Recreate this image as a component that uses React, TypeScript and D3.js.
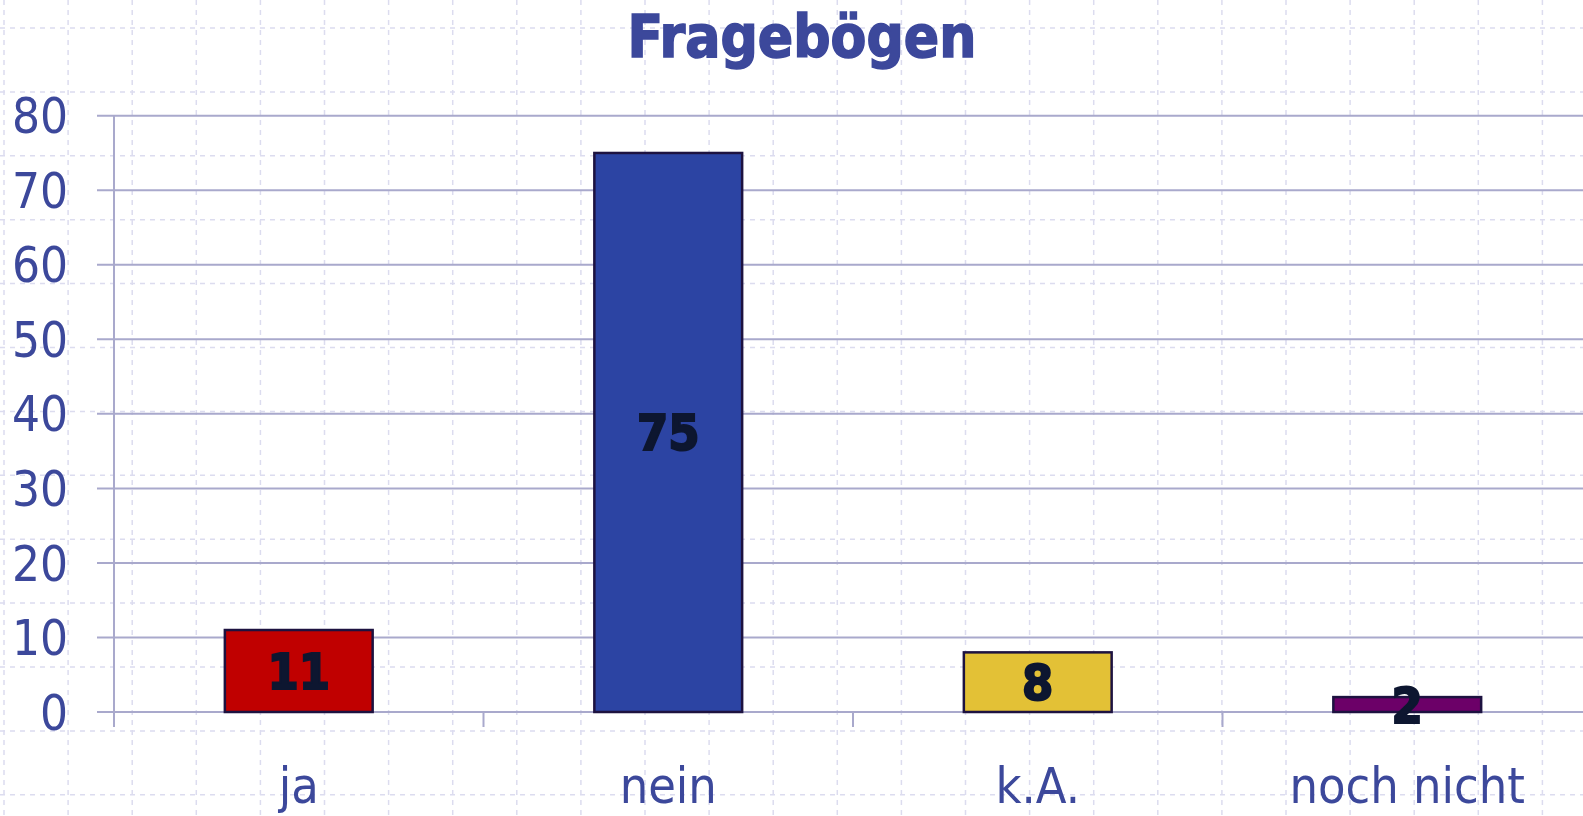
import React from "react";
import * as d3 from "d3";

const categories = ["ja", "nein", "k.A.", "noch nicht"];
const values = [11, 75, 8, 2];
const barColors = ["#c00000", "#2c44a3", "#e3c136", "#6c0068"];
const yTicks = [0, 10, 20, 30, 40, 50, 60, 70, 80];
const title = "Fragebögen";

const width = 1583;
const height = 816;
const textColor = "#3c489b";
const font = "'DejaVu Sans Condensed', 'DejaVu Sans', sans-serif";

const App = () => {
  const x = d3.scaleBand<string>().domain(categories).range([114, 1592]).padding(0);
  const y = d3.scaleLinear().domain([0, 80]).range([712, 115.7]);
  const barW = x.bandwidth() * 0.4;

  // background paper grid
  const bgX = d3.range(4, width, 64.1);
  const bgY = d3.range(28, height, 63.9);

  return (
    <div style={{ position: "fixed", left: 0, top: 0 }}>
      <svg width={width} height={height} style={{ display: "block", background: "#fff" }}>
        <g stroke="#dcdcef" strokeWidth={1.5} strokeDasharray="5,5">
          {bgX.map((v, i) => (
            <line key={"bx" + i} x1={v} x2={v} y1={0} y2={height} />
          ))}
          {bgY.map((v, i) => (
            <line key={"by" + i} x1={0} x2={width} y1={v} y2={v} />
          ))}
        </g>

        <text
          x={802}
          y={57}
          textAnchor="middle"
          fontFamily={font}
          fontWeight="bold"
          fontSize={58}
          fill={textColor}
          stroke={textColor}
          strokeWidth={1.5}
        >
          {title}
        </text>

        {/* gridlines + y ticks */}
        <g>
          {yTicks.map((t) => (
            <g key={t}>
              <line x1={97} x2={width} y1={y(t)} y2={y(t)} stroke="#a9a9cc" strokeWidth={2} />
              <text
                x={68}
                y={y(t)}
                dy="0.36em"
                textAnchor="end"
                fontFamily={font}
                fontSize={49}
                fill={textColor}
              >
                {t}
              </text>
            </g>
          ))}
        </g>

        {/* axes */}
        <line x1={114} x2={114} y1={y(80)} y2={727} stroke="#a9a9cc" strokeWidth={2} />
        {categories.slice(1).map((c) => (
          <line key={c} x1={x(c)} x2={x(c)} y1={y(0)} y2={727} stroke="#a9a9cc" strokeWidth={2} />
        ))}

        {/* bars */}
        {categories.map((c, i) => {
          const cx = (x(c) as number) + x.bandwidth() / 2;
          return (
            <g key={c}>
              <rect
                x={cx - barW / 2}
                y={y(values[i])}
                width={barW}
                height={y(0) - y(values[i])}
                fill={barColors[i]}
                stroke="#1d1240"
                strokeWidth={2.5}
              />
              <text
                x={cx}
                y={(y(values[i]) + y(0)) / 2}
                dy="0.36em"
                textAnchor="middle"
                fontFamily={font}
                fontWeight="bold"
                fontSize={50}
                fill="#0d1630"
                stroke="#0d1630"
                strokeWidth={2}
              >
                {values[i]}
              </text>
              <text
                x={cx}
                y={803}
                textAnchor="middle"
                fontFamily={font}
                fontSize={50}
                fill={textColor}
              >
                {c}
              </text>
            </g>
          );
        })}
      </svg>
    </div>
  );
};

export default App;
